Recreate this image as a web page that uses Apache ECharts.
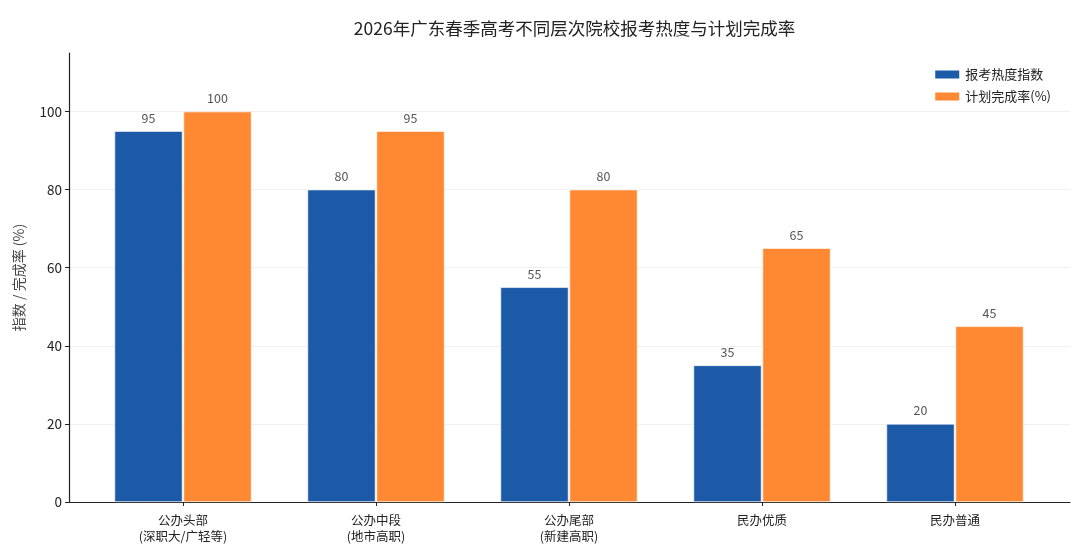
<!DOCTYPE html>
<html>
<head>
<meta charset="utf-8">
<script src="https://cdn.jsdelivr.net/npm/echarts@6/dist/echarts.min.js"></script>
<style>
html,body{margin:0;padding:0;background:#fff;}
#main{width:1080px;height:549px;}
</style>
</head>
<body>
<div id="main"></div>
<script>
// data
var categories = ['公办头部\n(深职大/广轻等)', '公办中段\n(地市高职)', '公办尾部\n(新建高职)', '民办优质', '民办普通'];
var heatIndex = [95, 80, 55, 35, 20];
var planRate = [100, 95, 80, 65, 45];
var seriesNames = ['报考热度指数', '计划完成率(%)'];

var FONT = '"Noto Sans CJK SC", "Noto Sans", sans-serif';
var myChart = echarts.init(document.getElementById('main'));

myChart.setOption({
    backgroundColor: '#fff',
    animation: false,
    textStyle: {fontFamily: FONT},
    title: {
        text: '2026年广东春季高考不同层次院校报考热度与计划完成率',
        left: 569.5,
        textAlign: 'center',
        top: 15,
        textStyle: {fontFamily: FONT, fontSize: 17.5, fontWeight: 'normal', color: '#222'}
    },
    legend: {
        orient: 'vertical',
        right: 24,
        top: 63,
        itemWidth: 26,
        itemHeight: 10,
        itemGap: 9,
        icon: 'rect',
        textStyle: {fontFamily: FONT, fontSize: 13, color: '#222'},
        data: seriesNames
    },
    grid: [
        // frame grid: y axis + full-width x line
        {left: 69, right: 10, top: 53, bottom: 47},
        // bar grid: matches matplotlib-like side margins
        {left: 86.5, right: 28.5, top: 53, bottom: 47}
    ],
    xAxis: [
        {
            gridIndex: 0, type: 'value', min: 0, max: 1,
            axisLine: {show: true, lineStyle: {color: '#222', width: 1.2}},
            axisTick: {show: false}, axisLabel: {show: false}, splitLine: {show: false}
        },
        {
            gridIndex: 1, type: 'category', data: categories,
            axisLine: {show: false},
            axisTick: {show: true, alignWithLabel: true, length: 4, lineStyle: {color: '#222'}},
            axisLabel: {fontFamily: FONT, fontSize: 12.5, color: '#222', lineHeight: 16, margin: 10},
            splitLine: {show: false}
        }
    ],
    yAxis: [
        {
            gridIndex: 0, type: 'value', min: 0, max: 115, interval: 20,
            name: '指数 / 完成率 (%)',
            nameLocation: 'middle',
            nameGap: 43,
            nameTextStyle: {fontFamily: FONT, fontSize: 14, color: '#444'},
            axisLine: {show: true, lineStyle: {color: '#222', width: 1.2}},
            axisTick: {show: true, length: 4, lineStyle: {color: '#222'}},
            axisLabel: {fontFamily: FONT, fontSize: 13.5, color: '#222', margin: 7, showMaxLabel: false},
            splitLine: {show: true, showMaxLine: false, lineStyle: {color: '#f0f0f0', width: 1}}
        },
        {
            gridIndex: 1, type: 'value', min: 0, max: 115, interval: 20,
            show: false, splitLine: {show: false}
        }
    ],
    series: [
        {
            name: seriesNames[0],
            type: 'bar',
            xAxisIndex: 1, yAxisIndex: 1,
            data: heatIndex,
            barWidth: 68,
            barGap: '1.5%',
            itemStyle: {color: '#1c5aa8', borderColor: '#fff', borderWidth: 0.6},
            label: {show: true, position: 'top', distance: 7, fontFamily: FONT, fontSize: 12.5, color: '#555'}
        },
        {
            name: seriesNames[1],
            type: 'bar',
            xAxisIndex: 1, yAxisIndex: 1,
            data: planRate,
            barWidth: 68,
            itemStyle: {color: '#ff8833', borderColor: '#fff', borderWidth: 0.6},
            label: {show: true, position: 'top', distance: 7, fontFamily: FONT, fontSize: 12.5, color: '#555'}
        }
    ]
});
</script>
</body>
</html>
